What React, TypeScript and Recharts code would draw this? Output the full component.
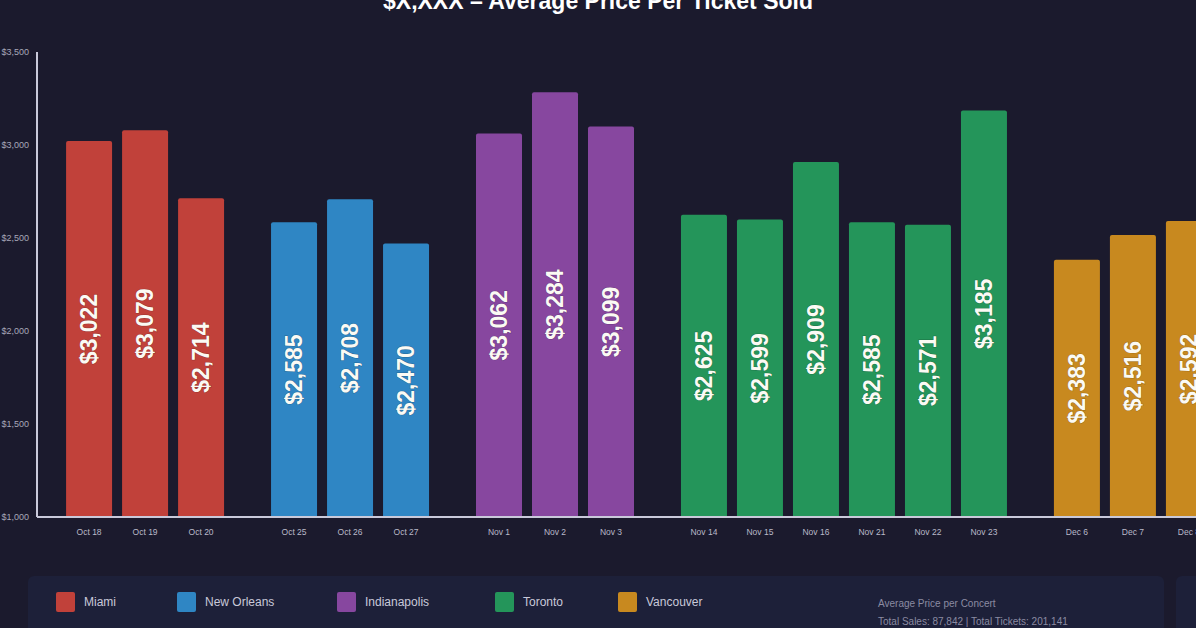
import React from "react";
import {
  BarChart,
  Bar,
  XAxis,
  YAxis,
  Cell,
  LabelList,
} from "recharts";

// cities and their concerts
const cities = ["Miami", "New Orleans", "Indianapolis", "Toronto", "Vancouver"];
const cityColors = ["#c1413a", "#2f86c4", "#87479f", "#24955a", "#c8891f"];

const miamiDates = ["Oct 18", "Oct 19", "Oct 20"];
const miamiPrices = [3022, 3079, 2714];
const newOrleansDates = ["Oct 25", "Oct 26", "Oct 27"];
const newOrleansPrices = [2585, 2708, 2470];
const indianapolisDates = ["Nov 1", "Nov 2", "Nov 3"];
const indianapolisPrices = [3062, 3284, 3099];
const torontoDates = ["Nov 14", "Nov 15", "Nov 16", "Nov 21", "Nov 22", "Nov 23"];
const torontoPrices = [2625, 2599, 2909, 2585, 2571, 3185];
const vancouverDates = ["Dec 6", "Dec 7", "Dec 8"];
const vancouverPrices = [2383, 2516, 2592];

const yTicks = [1000, 1500, 2000, 2500, 3000, 3500];

const groups = [
  { dates: miamiDates, prices: miamiPrices },
  { dates: newOrleansDates, prices: newOrleansPrices },
  { dates: indianapolisDates, prices: indianapolisPrices },
  { dates: torontoDates, prices: torontoPrices },
  { dates: vancouverDates, prices: vancouverPrices },
];

// gap between city groups, in bar slots
const GROUP_GAP = 0.66;
const EDGE_PAD = 0.93;

const chartData: { slot: number; date: string; value: number; city: number }[] = [];
let running = 0;
groups.forEach((g, gi) => {
  g.dates.forEach((d, i) => {
    chartData.push({
      slot: running + gi * GROUP_GAP,
      date: d,
      value: g.prices[i],
      city: gi,
    });
    running++;
  });
});

const slots = chartData.map((d) => d.slot);
const labelFor = (s: number) =>
  chartData.find((d) => Math.abs(d.slot - s) < 0.001)?.date ?? "";

const money = (v: number) => "$" + v.toLocaleString("en-US");

const ValueLabel = (props: any) => {
  const { x, y, width, height, value } = props;
  const cx = x + width / 2;
  const cy = y + height / 2;
  return (
    <text
      x={cx}
      y={cy}
      transform={`rotate(-90 ${cx} ${cy})`}
      textAnchor="middle"
      dominantBaseline="central"
      fill="#fbfaf4"
      fontSize={23}
      fontWeight="bold"
      stroke="rgba(0,0,0,0.25)"
      strokeWidth={1}
      paintOrder="stroke"
    >
      {money(value)}
    </text>
  );
};

const App = () => {
  return (
    <div
      style={{
        position: "fixed",
        top: 0,
        left: 0,
        width: 1196,
        height: 628,
        overflow: "hidden",
        background: "#1b1a2d",
        fontFamily: "'Liberation Sans', Arial, sans-serif",
      }}
    >
      {/* title, top is cut off in the reference */}
      <div
        style={{
          position: "absolute",
          top: -12,
          left: 0,
          width: 1196,
          textAlign: "center",
          color: "#ffffff",
          fontSize: 23,
          fontWeight: "bold",
          lineHeight: "26px",
        }}
      >
        $X,XXX – Average Price Per Ticket Sold
      </div>

      {/* legend band */}
      <div
        style={{
          position: "absolute",
          top: 576,
          left: 28,
          width: 1136,
          height: 70,
          background: "#1d2039",
          borderRadius: 6,
        }}
      />
      <div
        style={{
          position: "absolute",
          top: 576,
          left: 1176,
          width: 40,
          height: 70,
          background: "#1d2039",
          borderRadius: 6,
        }}
      />

      <div style={{ position: "absolute", top: 0, left: 0 }}>
        <BarChart
          width={1246}
          height={628}
          data={chartData}
          margin={{ top: 52, right: 5, left: 0, bottom: 91 }}
        >
          <YAxis
            width={37}
            domain={[1000, 3500]}
            ticks={yTicks}
            tickFormatter={money}
            tick={{ fill: "#a7a7b9", fontSize: 9 }}
            tickLine={false}
            axisLine={{ stroke: "#c9c9da", strokeWidth: 2 }}
          />
          <XAxis
            type="number"
            dataKey="slot"
            domain={[slots[0] - EDGE_PAD, slots[slots.length - 1] + EDGE_PAD]}
            ticks={slots}
            interval={0}
            tickFormatter={labelFor}
            height={20}
            tickMargin={6}
            tick={{ fill: "#b9b9c9", fontSize: 8.5 }}
            tickLine={false}
            axisLine={{ stroke: "#c9c9da", strokeWidth: 2 }}
            allowDecimals
          />
          <Bar
            dataKey="value"
            barSize={46}
            radius={[2, 2, 0, 0]}
            isAnimationActive={false}
          >
            {chartData.map((d, i) => (
              <Cell key={i} fill={cityColors[d.city]} />
            ))}
            <LabelList dataKey="value" content={ValueLabel} />
          </Bar>
        </BarChart>
      </div>

      {/* legend */}
      {cities.map((c, i) => (
        <div
          key={c}
          style={{
            position: "absolute",
            top: 592,
            left: [56, 177, 337, 495, 618][i],
            display: "flex",
            alignItems: "center",
            color: "#c9c9d9",
            fontSize: 12,
          }}
        >
          <span
            style={{
              display: "inline-block",
              width: 19,
              height: 20,
              background: cityColors[i],
              borderRadius: 2,
              marginRight: 9,
            }}
          />
          {c}
        </div>
      ))}

      <div
        style={{
          position: "absolute",
          top: 595,
          left: 878,
          color: "#8b8ba2",
          fontSize: 10,
          lineHeight: "18px",
        }}
      >
        <div>Average Price per Concert</div>
        <div>Total Sales: 87,842 | Total Tickets: 201,141</div>
      </div>
    </div>
  );
};

export default App;
